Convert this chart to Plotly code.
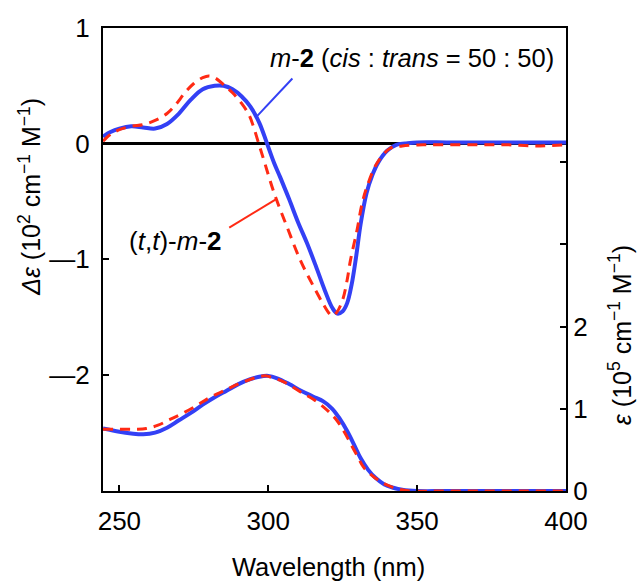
import plotly.graph_objects as go

# CD spectra (Δε, 10^2 cm^-1 M^-1)
cd_wl_mix = [244.5, 247, 250, 254, 258, 262, 266, 270, 274, 278, 282, 285, 288, 291, 294, 297,
             299.6, 302, 304, 307, 310, 313, 316, 319, 321.5, 323.2, 325, 326.5, 328, 329.5,
             331, 333, 335, 337, 340, 343, 346, 350, 360, 370, 380, 390, 400]
cd_mix = [0.06, 0.10, 0.13, 0.15, 0.14, 0.13, 0.17, 0.26, 0.38, 0.47, 0.50, 0.50, 0.47, 0.41, 0.32, 0.18,
          0.0, -0.17, -0.29, -0.48, -0.68, -0.86, -1.06, -1.27, -1.42, -1.47, -1.45, -1.38, -1.22, -0.98,
          -0.70, -0.43, -0.27, -0.16, -0.06, -0.01, 0.0, 0.01, 0.01, 0.01, 0.01, 0.01, 0.01]

cd_wl_tt = [244.5, 247, 250, 254, 258, 262, 266, 269, 272, 275, 278, 280, 282, 285, 288, 291, 293.5,
            295, 296.8, 298.5, 302, 306.3, 310.8, 315.3, 318.5, 320.5, 321.5, 323, 325, 326.5, 327.6,
            329.8, 331.5, 333.2, 336.5, 341, 345, 352, 360, 370, 380, 390, 400]
cd_tt = [0.02, 0.08, 0.12, 0.15, 0.165, 0.20, 0.26, 0.34, 0.44, 0.52, 0.57, 0.585, 0.57, 0.51, 0.44, 0.35, 0.25,
         0.15, 0.0, -0.14, -0.43, -0.72, -1.01, -1.24, -1.39, -1.47, -1.49, -1.46, -1.35, -1.18, -1.01,
         -0.75, -0.52, -0.37, -0.17, -0.04, -0.02, -0.01, -0.01, -0.01, -0.01, -0.02, -0.01]

# UV-vis spectra (ε, 10^5 cm^-1 M^-1)
uv_wl_mix = [244.5, 250, 254, 258, 262, 266, 270, 274, 278, 282, 286, 290, 294, 297, 300, 303, 307,
             311, 315, 318.5, 321.5, 324, 326.5, 329, 331, 333.5, 336, 339, 342, 345, 350, 360, 380, 400]
uv_mix = [0.76, 0.72, 0.70, 0.69, 0.71, 0.77, 0.86, 0.95, 1.05, 1.14, 1.22, 1.30, 1.36, 1.39, 1.40, 1.37, 1.30,
          1.22, 1.15, 1.09, 1.00, 0.88, 0.73, 0.55, 0.40, 0.26, 0.16, 0.08, 0.04, 0.015, 0.0, 0.0, 0.0, 0.0]

uv_wl_tt = [244.5, 248, 252, 256, 259, 263, 267, 271, 276, 280, 284, 288, 292, 296, 299, 302, 305, 308,
            311, 315, 318.6, 321, 323, 325.5, 327.6, 330, 332, 334.5, 337, 340, 344, 348, 360, 400]
uv_tt = [0.75, 0.75, 0.75, 0.75, 0.76, 0.80, 0.87, 0.94, 1.04, 1.13, 1.20, 1.27, 1.33, 1.38, 1.40, 1.37, 1.33, 1.27,
         1.20, 1.12, 1.02, 0.94, 0.86, 0.72, 0.58, 0.42, 0.29, 0.20, 0.13, 0.07, 0.02, 0.0, 0.0, 0.0]

# Axis ticks
x_ticks = [250, 300, 350, 400]
cd_ticks = [-2, -1, 0, 1]
cd_tick_text = ["\u20142", "\u20141", "0", "1"]
uv_ticks = [0, 1, 2, 3, 4]
uv_tick_text = ["0", "1", "2", "", ""]

# Leader lines from labels to curves (wavelength, Δε)
lead_mix_x = [296.4, 308.1]
lead_mix_y = [0.242, 0.563]
lead_tt_x = [286.9, 302.4]
lead_tt_y = [-0.727, -0.485]

BLUE = "#3340f5"
RED = "#ff2a14"
FONT = "Liberation Sans, Arial, Helvetica, sans-serif"
FS = 26

fig = go.Figure()

fig.add_trace(go.Scatter(x=uv_wl_mix, y=uv_mix, yaxis="y2", mode="lines",
                         line=dict(color=BLUE, width=4, shape="spline"), showlegend=False))
fig.add_trace(go.Scatter(x=uv_wl_tt, y=uv_tt, yaxis="y2", mode="lines",
                         line=dict(color=RED, width=3, dash="10px,7px", shape="spline"), showlegend=False))
fig.add_trace(go.Scatter(x=cd_wl_mix, y=cd_mix, mode="lines",
                         line=dict(color=BLUE, width=4, shape="spline"), showlegend=False))
fig.add_trace(go.Scatter(x=cd_wl_tt, y=cd_tt, mode="lines",
                         line=dict(color=RED, width=3, dash="10px,7px", shape="spline"), showlegend=False))

# Leader lines
fig.add_trace(go.Scatter(x=lead_mix_x, y=lead_mix_y, mode="lines",
                         line=dict(color=BLUE, width=2), showlegend=False))
fig.add_trace(go.Scatter(x=lead_tt_x, y=lead_tt_y, mode="lines",
                         line=dict(color=RED, width=2), showlegend=False))

fig.update_layout(
    width=640, height=582,
    margin=dict(l=103, r=74, t=28, b=91),
    paper_bgcolor="white", plot_bgcolor="white",
    font=dict(family=FONT, size=FS, color="black"),
    xaxis=dict(range=[244.5, 400], tickvals=x_ticks, ticks="inside", ticklen=6, tickwidth=1.5,
               tickcolor="black", showline=True, linecolor="black", linewidth=2, mirror=True,
               showgrid=False, zeroline=False, tickfont=dict(size=FS), ticklabelstandoff=6),
    yaxis=dict(range=[-3.005, 1.0], tickvals=cd_ticks, ticktext=cd_tick_text, ticks="inside",
               ticklen=6, tickwidth=1.5, tickcolor="black", showline=True, linecolor="black",
               linewidth=2, showgrid=False, zeroline=True, zerolinecolor="black", zerolinewidth=2.5,
               tickfont=dict(size=FS), ticklabelstandoff=6),
    yaxis2=dict(range=[0, 5.63], overlaying="y", side="right", tickvals=uv_ticks,
                ticktext=uv_tick_text, ticks="inside", ticklen=6, tickwidth=1.5, tickcolor="black",
                showline=True, linecolor="black", linewidth=2, showgrid=False, zeroline=False,
                tickfont=dict(size=FS)),
)

annotations = [
    dict(text="<i>m</i>-<b>2</b> (<i>cis</i> : <i>trans</i> = 50 : 50)", x=396.6, y=0.74,
         xref="x", yref="y", xanchor="right", yanchor="middle", showarrow=False, font=dict(size=25.5)),
    dict(text="(<i>t</i>,<i>t</i>)-<i>m</i>-<b>2</b>", x=285.2, y=-0.84,
         xref="x", yref="y", xanchor="right", yanchor="middle", showarrow=False, font=dict(size=26)),
    dict(text="Wavelength (nm)", x=0.486, y=-0.164, xref="paper", yref="paper",
         xanchor="center", yanchor="middle", showarrow=False, font=dict(size=25.5)),
    dict(text="<i>Δε</i> (10<sup>2</sup> cm<sup>\u22121</sup> M<sup>\u22121</sup>)", x=-0.158, y=0.635,
         xref="paper", yref="paper", xanchor="center", yanchor="middle", textangle=-90,
         showarrow=False, font=dict(size=25)),
    dict(text="<i>ε</i> (10<sup>5</sup> cm<sup>\u22121</sup> M<sup>\u22121</sup>)", x=1.117, y=0.337,
         xref="paper", yref="paper", xanchor="center", yanchor="middle", textangle=-90,
         showarrow=False, font=dict(size=25)),
]
fig.update_layout(annotations=annotations)

fig.write_html("out.html")
